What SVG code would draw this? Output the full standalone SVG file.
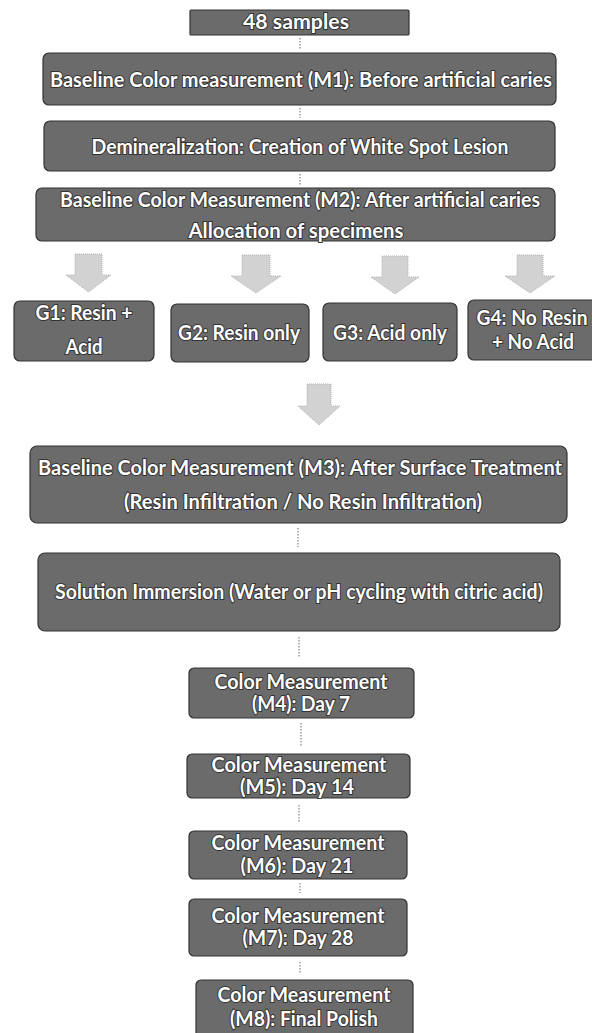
<svg xmlns="http://www.w3.org/2000/svg" width="592" height="1033" viewBox="0 0 592 1033">
<defs>
<style>
.box{fill:#6b6b6b;stroke:#333;stroke-width:1.2}
.t{font-family:Lato,"Open Sans","Liberation Sans",sans-serif;font-weight:bold;font-size:20px;fill:#fff;stroke:#333;stroke-width:2;paint-order:stroke;text-anchor:middle}
.c{stroke:#9a9a9a;stroke-width:1.5;stroke-dasharray:1.5 1.5;fill:none}
.ba{fill:#d2d2d2;stroke:#b0b0b0;stroke-width:1;stroke-dasharray:1 1}
</style>
</defs>
<rect width="592" height="1033" fill="#fff"/>

<g id="connectors">
<line class="c" x1="300" y1="38" x2="300" y2="49"/>
<line class="c" x1="300" y1="108" x2="300" y2="118"/>
<line class="c" x1="300" y1="174" x2="300" y2="185"/>
<path class="ba" d="M75,254 H102 V275 H111 L88.5,292 L66,275 H75 Z"/>
<path class="ba" d="M242,255 H270 V276 H281 L256,293 L231,276 H242 Z"/>
<path class="ba" d="M382,256 H408 V277 H419 L395,294 L371,277 H382 Z"/>
<path class="ba" d="M517,255 H543 V276 H555 L530,293 L505,276 H517 Z"/>
<path class="ba" d="M307,384 H331 V406 H340 L319,425 L298,406 H307 Z"/>
<line class="c" x1="298" y1="528" x2="298" y2="547"/>
<line class="c" x1="299" y1="637" x2="299" y2="657"/>
<line class="c" x1="301" y1="723" x2="301" y2="747"/>
<line class="c" x1="299" y1="805" x2="299" y2="822"/>
<line class="c" x1="300" y1="883" x2="300" y2="893"/>
<line class="c" x1="300" y1="962" x2="300" y2="973"/>
</g>

<g id="n-samples">
<rect class="box" x="190" y="10" width="219" height="25" rx="1"/>
<text class="t" x="296" y="29" textLength="106" lengthAdjust="spacingAndGlyphs">48 samples</text>
</g>
<g id="n-m1">
<rect class="box" x="43" y="53" width="513" height="52" rx="6"/>
<text class="t" x="301" y="87" textLength="502" lengthAdjust="spacingAndGlyphs">Baseline Color measurement (M1): Before artificial caries</text>
</g>
<g id="n-demin">
<rect class="box" x="44" y="121" width="511" height="50" rx="6"/>
<text class="t" x="300" y="154" textLength="417" lengthAdjust="spacingAndGlyphs">Demineralization: Creation of White Spot Lesion</text>
</g>
<g id="n-m2">
<rect class="box" x="36" y="188" width="519" height="53" rx="6"/>
<text class="t" x="300" y="207" textLength="480" lengthAdjust="spacingAndGlyphs">Baseline Color Measurement (M2): After artificial caries</text>
<text class="t" x="296" y="238" textLength="215" lengthAdjust="spacingAndGlyphs">Allocation of specimens</text>
</g>
<g id="n-g1">
<rect class="box" x="14" y="301" width="140" height="60" rx="6"/>
<text class="t" x="84" y="320" textLength="97" lengthAdjust="spacingAndGlyphs">G1: Resin +</text>
<text class="t" x="84" y="354" textLength="37" lengthAdjust="spacingAndGlyphs">Acid</text>
</g>
<g id="n-g2">
<rect class="box" x="171" y="304" width="138" height="58" rx="6"/>
<text class="t" x="239" y="340" textLength="122" lengthAdjust="spacingAndGlyphs">G2: Resin only</text>
</g>
<g id="n-g3">
<rect class="box" x="323" y="303" width="134" height="58" rx="6"/>
<text class="t" x="390" y="340" textLength="114" lengthAdjust="spacingAndGlyphs">G3: Acid only</text>
</g>
<g id="n-g4">
<rect class="box" x="468" y="300" width="130" height="60" rx="6"/>
<text class="t" x="532" y="325" textLength="111" lengthAdjust="spacingAndGlyphs">G4: No Resin</text>
<text class="t" x="533" y="349" textLength="82" lengthAdjust="spacingAndGlyphs">+ No Acid</text>
</g>
<g id="n-m3">
<rect class="box" x="30" y="446" width="537" height="77" rx="7"/>
<text class="t" x="300" y="475" textLength="524" lengthAdjust="spacingAndGlyphs">Baseline Color Measurement (M3): After Surface Treatment</text>
<text class="t" x="303" y="509" textLength="358" lengthAdjust="spacingAndGlyphs">(Resin Infiltration / No Resin Infiltration)</text>
</g>
<g id="n-solution">
<rect class="box" x="38" y="553" width="522" height="78" rx="7"/>
<text class="t" x="299" y="599" textLength="488" lengthAdjust="spacingAndGlyphs">Solution Immersion (Water or pH cycling with citric acid)</text>
</g>
<g id="n-m4">
<rect class="box" x="189" y="668" width="225" height="50" rx="5"/>
<text class="t" x="301" y="689" textLength="173" lengthAdjust="spacingAndGlyphs">Color Measurement</text>
<text class="t" x="301" y="711" textLength="98" lengthAdjust="spacingAndGlyphs">(M4): Day 7</text>
</g>
<g id="n-m5">
<rect class="box" x="187" y="754" width="223" height="44" rx="5"/>
<text class="t" x="299" y="772" textLength="175" lengthAdjust="spacingAndGlyphs">Color Measurement</text>
<text class="t" x="297" y="794" textLength="114" lengthAdjust="spacingAndGlyphs">(M5): Day 14</text>
</g>
<g id="n-m6">
<rect class="box" x="189" y="831" width="218" height="48" rx="5"/>
<text class="t" x="298" y="850" textLength="173" lengthAdjust="spacingAndGlyphs">Color Measurement</text>
<text class="t" x="297" y="873" textLength="113" lengthAdjust="spacingAndGlyphs">(M6): Day 21</text>
</g>
<g id="n-m7">
<rect class="box" x="189" y="899" width="218" height="57" rx="5"/>
<text class="t" x="298" y="923" textLength="173" lengthAdjust="spacingAndGlyphs">Color Measurement</text>
<text class="t" x="298" y="945" textLength="111" lengthAdjust="spacingAndGlyphs">(M7): Day 28</text>
</g>
<g id="n-m8">
<rect class="box" x="196" y="980" width="217" height="60" rx="5"/>
<text class="t" x="304" y="1002" textLength="173" lengthAdjust="spacingAndGlyphs">Color Measurement</text>
<text class="t" x="304" y="1026" textLength="148" lengthAdjust="spacingAndGlyphs">(M8): Final Polish</text>
</g>
</svg>
